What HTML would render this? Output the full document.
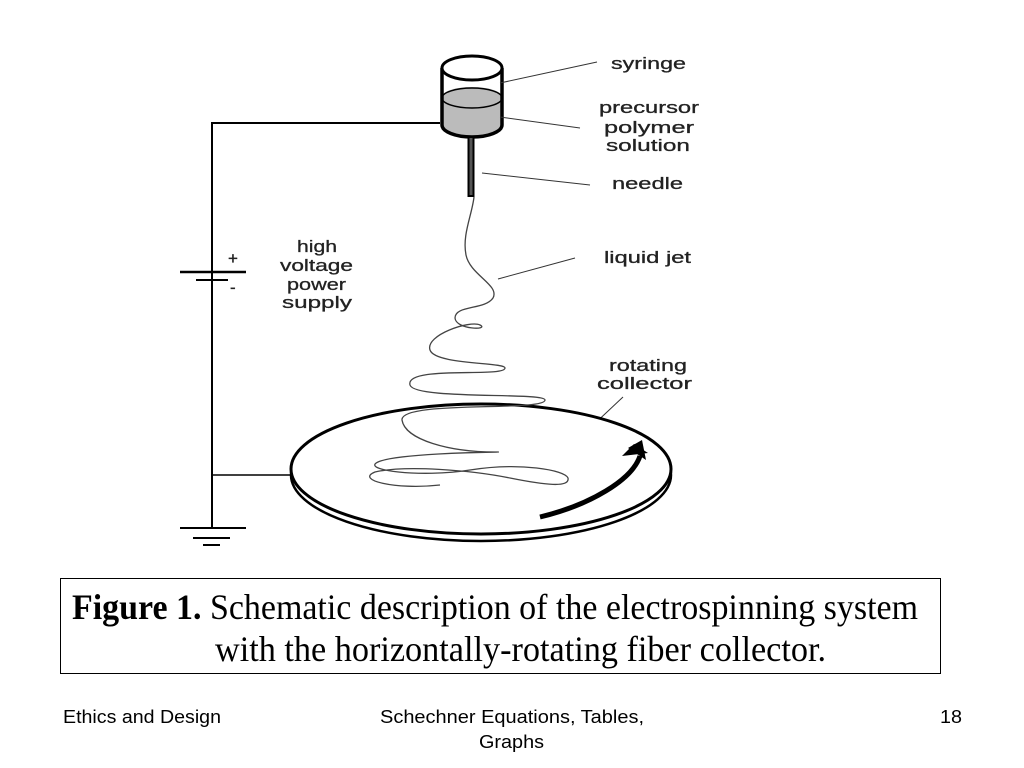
<!DOCTYPE html>
<html><head><meta charset="utf-8"><style>
body{margin:0;background:#fff;}
svg{display:block;}
.l{font-family:"Liberation Sans",Arial,sans-serif;font-size:17px;fill:#222;stroke:#222;stroke-width:0.3;}
.c{font-family:"Liberation Serif",serif;font-size:36px;fill:#000;}
.f{font-family:"Liberation Sans",Arial,sans-serif;font-size:18px;fill:#000;}
</style></head><body>
<svg width="1024" height="768" viewBox="0 0 1024 768" xmlns="http://www.w3.org/2000/svg">
<g fill="none" stroke="#000">
 <path d="M440 123 H212 V528" stroke-width="2"/>
 <path d="M212 475 H292" stroke-width="1.5"/>
 <path d="M180 272 H246" stroke-width="2.5"/>
 <path d="M196 280 H228" stroke-width="2"/>
 <path d="M180 528 H246 M193 538 H230 M203 545 H220" stroke-width="2"/>
 <path d="M442 97 V125 A30 12 0 0 0 502 125 V97 A30 10 0 0 0 442 97 Z" fill="#bbb" stroke="none"/>
 <ellipse cx="472" cy="98" rx="30" ry="10" fill="#bbb" stroke-width="1.5"/>
 <path d="M442 68 V125 A30 12 0 0 0 502 125 V68" stroke-width="3.5"/>
 <ellipse cx="472" cy="68" rx="30" ry="12" stroke-width="3" fill="#fff"/>
 <rect x="468.5" y="137" width="5" height="59" fill="#555" stroke-width="2"/>
 <g stroke="#333" stroke-width="1">
  <path d="M500 83 L597 62"/><path d="M500 117 L580 128"/><path d="M482 173 L590 185"/><path d="M498 279 L575 258"/><path d="M590 428 L623 397"/>
 </g>
 <ellipse cx="481" cy="475" rx="190" ry="66" stroke-width="2.5"/>
 <ellipse cx="481" cy="469" rx="190" ry="65" stroke-width="3" fill="#fff"/>
 <path d="M474 197 C472 215 462 235 466 255 C470 275 500 285 493 298 C485 310 455 305 455 318 C456 330 490 330 480 325 C470 320 425 335 430 350 C435 365 505 362 505 368 C505 378 405 365 410 385 C414 400 545 392 545 400 C545 412 400 400 402 420 C405 440 450 452 495 452 C520 452 400 452 378 462 C360 470 420 478 470 470 C520 462 565 470 568 478 C570 488 545 485 510 478 C470 470 405 465 375 472 C355 480 395 490 440 485" stroke="#444" stroke-width="1.3"/>
 <path d="M540 517 C590 505 632 480 640 456" stroke-width="5"/>
</g>
<path d="M622 456 L634 444 L648 453 Z" fill="#000"/>
<path d="M628 448 L642 440 L646 460 Z" fill="#000"/>
<text class="l" x="611" y="69" textLength="75" lengthAdjust="spacingAndGlyphs">syringe</text>
<text class="l" x="599" y="113" textLength="100" lengthAdjust="spacingAndGlyphs">precursor</text>
<text class="l" x="604" y="133" textLength="90" lengthAdjust="spacingAndGlyphs">polymer</text>
<text class="l" x="606" y="151" textLength="84" lengthAdjust="spacingAndGlyphs">solution</text>
<text class="l" x="612" y="189" textLength="71" lengthAdjust="spacingAndGlyphs">needle</text>
<text class="l" x="604" y="263" textLength="87" lengthAdjust="spacingAndGlyphs">liquid jet</text>
<text class="l" x="609" y="371" textLength="78" lengthAdjust="spacingAndGlyphs">rotating</text>
<text class="l" x="597" y="389" textLength="95" lengthAdjust="spacingAndGlyphs">collector</text>
<text class="l" x="297" y="252" textLength="40" lengthAdjust="spacingAndGlyphs">high</text>
<text class="l" x="280" y="271" textLength="73" lengthAdjust="spacingAndGlyphs">voltage</text>
<text class="l" x="287" y="290" textLength="59" lengthAdjust="spacingAndGlyphs">power</text>
<text class="l" x="282" y="308" textLength="70" lengthAdjust="spacingAndGlyphs">supply</text>
<text class="l" x="228" y="264" font-size="14">+</text>
<text class="l" x="230" y="293" font-size="14">-</text>
<rect x="60.5" y="578.5" width="880" height="95" fill="none" stroke="#000" stroke-width="1"/>
<text class="c" x="72" y="619" textLength="846" lengthAdjust="spacingAndGlyphs"><tspan font-weight="bold">Figure 1.</tspan> Schematic description of the electrospinning system</text>
<text class="c" x="215" y="661" textLength="611" lengthAdjust="spacingAndGlyphs">with the horizontally-rotating fiber collector.</text>
<text class="f" x="63" y="723" textLength="158" lengthAdjust="spacingAndGlyphs">Ethics and Design</text>
<text class="f" x="380" y="723" textLength="264" lengthAdjust="spacingAndGlyphs">Schechner  Equations, Tables,</text>
<text class="f" x="479" y="748" textLength="65" lengthAdjust="spacingAndGlyphs">Graphs</text>
<text class="f" x="940" y="723" textLength="22" lengthAdjust="spacingAndGlyphs">18</text>
</svg>
</body></html>
